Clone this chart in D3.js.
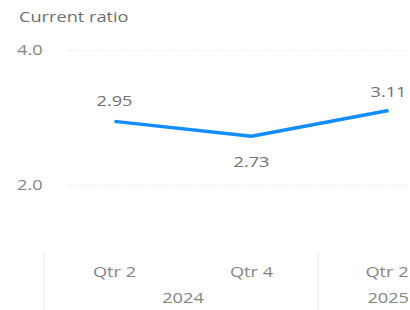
<!DOCTYPE html>
<html><head><meta charset="utf-8">
<script src="https://cdn.jsdelivr.net/npm/d3@7"></script>
<style>body{margin:0;background:#fff;}svg{display:block;font-family:"Open Sans",sans-serif;}</style>
</head><body><svg id="c" width="410" height="310"></svg>
<script>
const quarters = ["Qtr 2", "Qtr 4", "Qtr 2"];
const years = ["2024", "2024", "2025"];
const yearGroups = ["2024", "2025"];
const values = [2.95, 2.73, 3.11];
const yTicks = [2.0, 4.0];
const title = "Current ratio";

const svg = d3.select("#c");
const W = 410, H = 310;
const SX = 1.3, FS = 14;
const idx = d3.range(values.length);
const x = d3.scaleBand().domain(idx).range([46, 457]).padding(0);
const y = d3.scaleLinear().domain([2, 4]).range([185.5, 50.5]);
const cx = i => x(i) + x.bandwidth() / 2;

function txt(g, tx, ty, s, anchor, fill) {
  return g.append("text")
    .attr("transform", `translate(${tx},${ty}) scale(${SX},1)`)
    .attr("text-anchor", anchor || "start").attr("dy", "0.35em")
    .attr("fill", fill || "#858585").attr("font-size", FS).text(s);
}

txt(svg, 19, 17, title, "start", "#707070");

// grid
svg.append("g").selectAll("line").data(yTicks).join("line")
  .attr("x1", 68).attr("x2", W).attr("y1", d => y(d)).attr("y2", d => y(d))
  .attr("stroke", "#e2e2e2").attr("stroke-dasharray", "1,2");
yTicks.forEach(d => txt(svg, 17, y(d), d.toFixed(1), "start"));

// line
const line = d3.line().x((d, i) => cx(i)).y(d => y(d));
svg.append("path").datum(values).attr("d", line).attr("fill", "none")
  .attr("stroke", "#118DFF").attr("stroke-width", 3.5).attr("stroke-linejoin", "round");

// data labels
const labelDy = [-20, 26, -18];
values.forEach((d, i) => txt(svg, cx(i), y(d) + labelDy[i], d.toFixed(2), "middle", "#707070"));

// x axis categories
quarters.forEach((q, i) => txt(svg, Math.min(cx(i), W - 23), 272, q, "middle"));

// year groups
yearGroups.forEach(yr => {
  const ids = idx.filter(i => years[i] === yr);
  const x0 = x(ids[0]), x1 = x(ids[ids.length - 1]) + x.bandwidth();
  svg.append("line").attr("x1", x0 - 2).attr("x2", x0 - 2).attr("y1", 252).attr("y2", 310)
    .attr("stroke", "#ececec");
  let tx = (x0 + x1) / 2;
  let anchor = "middle";
  if (x1 > W) { tx = W - 1; anchor = "end"; }
  txt(svg, tx, 298, yr, anchor);
});
</script></body></html>
